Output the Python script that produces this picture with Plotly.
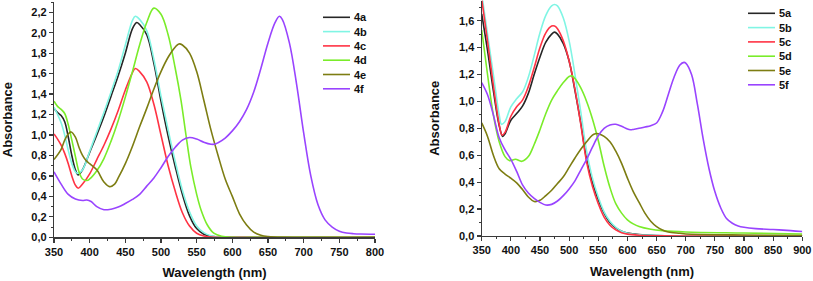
import plotly.graph_objects as go

# ---------------- data: left panel (compounds 4a-4f) ----------------
names_4 = ["4a", "4b", "4c", "4d", "4e", "4f"]

wl_4a = [350, 355, 360, 365, 370, 375, 380, 384, 390, 400, 410, 420, 430, 440, 450, 460, 466, 470, 480, 490, 500, 510, 520, 530, 540, 550, 560, 570, 580, 600, 650, 800]
ab_4a = [1.26, 1.22, 1.19, 1.13, 0.98, 0.80, 0.66, 0.61, 0.66, 0.83, 1.00, 1.18, 1.38, 1.58, 1.80, 2.04, 2.10, 2.08, 1.98, 1.70, 1.33, 0.99, 0.69, 0.42, 0.21, 0.085, 0.03, 0.01, 0.003, 0.0, 0.0, 0.0]

wl_4b = [350, 355, 360, 365, 370, 375, 380, 383, 390, 400, 410, 420, 430, 440, 450, 460, 464, 470, 480, 490, 500, 510, 520, 530, 540, 550, 560, 570, 580, 600, 650, 800]
ab_4b = [1.27, 1.20, 1.12, 1.00, 0.85, 0.72, 0.64, 0.625, 0.66, 0.84, 1.03, 1.22, 1.42, 1.63, 1.88, 2.12, 2.16, 2.13, 2.02, 1.74, 1.38, 1.05, 0.74, 0.46, 0.25, 0.11, 0.045, 0.015, 0.005, 0.0, 0.0, 0.0]

wl_4c = [350, 355, 360, 365, 370, 375, 380, 384, 390, 400, 410, 420, 430, 440, 450, 460, 464, 470, 480, 490, 500, 510, 520, 530, 540, 550, 560, 570, 600, 650, 800]
ab_4c = [1.01, 0.96, 0.90, 0.82, 0.72, 0.60, 0.51, 0.48, 0.52, 0.62, 0.76, 0.90, 1.06, 1.24, 1.44, 1.61, 1.65, 1.62, 1.52, 1.30, 1.00, 0.70, 0.45, 0.24, 0.11, 0.04, 0.012, 0.003, 0.0, 0.0, 0.0]

wl_4d = [350, 355, 360, 365, 370, 375, 380, 385, 390, 396, 400, 410, 420, 430, 440, 450, 460, 470, 480, 490, 500, 510, 520, 528, 535, 542, 550, 556, 565, 574, 585, 600, 650, 800]
ab_4d = [1.33, 1.28, 1.25, 1.21, 1.10, 0.95, 0.79, 0.64, 0.57, 0.555, 0.57, 0.65, 0.77, 0.94, 1.14, 1.37, 1.62, 1.88, 2.10, 2.24, 2.18, 1.98, 1.65, 1.34, 1.00, 0.68, 0.42, 0.27, 0.12, 0.04, 0.01, 0.0, 0.0, 0.0]

wl_4e = [350, 360, 365, 370, 374, 380, 385, 390, 395, 400, 410, 420, 428, 435, 440, 450, 460, 470, 480, 490, 500, 510, 520, 525, 530, 540, 550, 560, 570, 580, 590, 600, 610, 620, 630, 640, 650, 670, 800]
ab_4e = [0.76, 0.86, 0.95, 1.01, 1.03, 0.98, 0.88, 0.80, 0.75, 0.72, 0.66, 0.54, 0.495, 0.52, 0.58, 0.72, 0.89, 1.08, 1.26, 1.45, 1.62, 1.76, 1.86, 1.89, 1.88, 1.80, 1.62, 1.34, 1.05, 0.80, 0.57, 0.40, 0.23, 0.12, 0.05, 0.02, 0.008, 0.0, 0.0]

wl_4f = [350, 360, 370, 380, 390, 396, 402, 410, 420, 430, 440, 450, 460, 470, 480, 490, 500, 510, 520, 530, 540, 550, 560, 570, 575, 580, 590, 600, 610, 620, 630, 640, 650, 660, 666, 670, 680, 690, 700, 710, 720, 730, 740, 750, 760, 770, 780, 800]
ab_4f = [0.64, 0.52, 0.42, 0.375, 0.36, 0.365, 0.35, 0.30, 0.27, 0.275, 0.295, 0.33, 0.37, 0.42, 0.50, 0.58, 0.68, 0.79, 0.88, 0.95, 0.975, 0.96, 0.93, 0.91, 0.91, 0.925, 0.97, 1.04, 1.13, 1.25, 1.42, 1.65, 1.90, 2.10, 2.16, 2.13, 1.90, 1.50, 1.02, 0.60, 0.32, 0.17, 0.10, 0.06, 0.042, 0.035, 0.032, 0.03]

# ---------------- data: right panel (compounds 5a-5f) ----------------
names_5 = ["5a", "5b", "5c", "5d", "5e", "5f"]

wl_5a = [350, 360, 370, 380, 386, 390, 400, 410, 420, 430, 440, 450, 460, 470, 475, 480, 490, 500, 510, 520, 530, 540, 550, 560, 570, 580, 590, 600, 620, 650, 700, 900]
ab_5a = [1.65, 1.38, 1.08, 0.82, 0.74, 0.76, 0.86, 0.91, 0.965, 1.06, 1.20, 1.33, 1.44, 1.50, 1.515, 1.50, 1.43, 1.30, 1.08, 0.84, 0.57, 0.40, 0.27, 0.17, 0.10, 0.06, 0.035, 0.022, 0.01, 0.004, 0.002, 0.0]

wl_5b = [350, 360, 370, 380, 384, 390, 400, 410, 420, 430, 440, 450, 460, 470, 475, 480, 490, 500, 510, 520, 530, 540, 550, 560, 570, 580, 590, 600, 620, 650, 700, 900]
ab_5b = [1.80, 1.50, 1.20, 0.90, 0.83, 0.85, 0.96, 1.02, 1.07, 1.18, 1.34, 1.51, 1.64, 1.71, 1.72, 1.71, 1.62, 1.45, 1.20, 0.92, 0.63, 0.43, 0.29, 0.18, 0.11, 0.065, 0.035, 0.02, 0.008, 0.003, 0.001, 0.0]

wl_5c = [350, 360, 370, 380, 385, 390, 400, 410, 420, 430, 440, 450, 460, 470, 475, 480, 490, 500, 510, 520, 530, 540, 550, 560, 570, 580, 590, 600, 620, 650, 700, 900]
ab_5c = [1.76, 1.45, 1.12, 0.83, 0.75, 0.77, 0.89, 0.96, 1.01, 1.11, 1.25, 1.40, 1.51, 1.56, 1.56, 1.54, 1.45, 1.30, 1.09, 0.83, 0.55, 0.37, 0.24, 0.14, 0.08, 0.045, 0.025, 0.014, 0.006, 0.002, 0.0, 0.0]

wl_5d = [350, 360, 370, 380, 390, 398, 408, 419, 430, 440, 450, 460, 470, 480, 490, 500, 505, 510, 520, 530, 540, 550, 560, 570, 580, 590, 600, 610, 620, 640, 660, 700, 800, 900]
ab_5d = [1.53, 1.20, 0.90, 0.70, 0.59, 0.56, 0.57, 0.555, 0.59, 0.68, 0.79, 0.91, 1.01, 1.08, 1.14, 1.185, 1.19, 1.17, 1.10, 1.00, 0.87, 0.71, 0.52, 0.36, 0.24, 0.17, 0.12, 0.09, 0.07, 0.05, 0.04, 0.03, 0.022, 0.015]

wl_5e = [350, 360, 370, 380, 390, 400, 410, 420, 430, 440, 450, 460, 470, 480, 490, 500, 510, 520, 530, 540, 545, 550, 560, 570, 580, 590, 600, 610, 620, 630, 640, 650, 660, 670, 690, 700, 800, 900]
ab_5e = [0.84, 0.74, 0.60, 0.50, 0.46, 0.43, 0.395, 0.345, 0.29, 0.256, 0.265, 0.30, 0.34, 0.39, 0.44, 0.51, 0.58, 0.645, 0.70, 0.75, 0.76, 0.76, 0.74, 0.70, 0.63, 0.54, 0.43, 0.33, 0.25, 0.17, 0.11, 0.07, 0.045, 0.03, 0.02, 0.015, 0.007, 0.004]

wl_5f = [350, 360, 370, 380, 390, 400, 410, 420, 430, 440, 450, 460, 470, 480, 490, 500, 510, 520, 530, 540, 550, 560, 570, 580, 590, 600, 605, 610, 620, 630, 640, 650, 660, 670, 680, 690, 697, 700, 710, 720, 730, 740, 750, 760, 770, 780, 790, 800, 820, 850, 880, 900]
ab_5f = [1.14, 1.05, 0.90, 0.73, 0.64, 0.57, 0.48, 0.38, 0.32, 0.28, 0.25, 0.23, 0.235, 0.26, 0.30, 0.35, 0.41, 0.49, 0.57, 0.66, 0.745, 0.80, 0.825, 0.83, 0.815, 0.795, 0.79, 0.792, 0.80, 0.81, 0.82, 0.84, 0.92, 1.05, 1.18, 1.27, 1.29, 1.285, 1.20, 0.98, 0.72, 0.50, 0.33, 0.21, 0.13, 0.095, 0.075, 0.065, 0.055, 0.048, 0.04, 0.033]

colors = ["#262626", "#80f5e4", "#ff3344", "#7aec2a", "#7d7d12", "#9944ff"]

wl_ticks_left = [350, 400, 450, 500, 550, 600, 650, 700, 750, 800]
wl_ticks_right = [350, 400, 450, 500, 550, 600, 650, 700, 750, 800, 850, 900]

left_series = list(zip(names_4, [wl_4a, wl_4b, wl_4c, wl_4d, wl_4e, wl_4f],
                       [ab_4a, ab_4b, ab_4c, ab_4d, ab_4e, ab_4f]))
right_series = list(zip(names_5, [wl_5a, wl_5b, wl_5c, wl_5d, wl_5e, wl_5f],
                        [ab_5a, ab_5b, ab_5c, ab_5d, ab_5e, ab_5f]))

FONT = "Liberation Sans, Arial, sans-serif"
AXC = "#3a3a3a"

fig = go.Figure()
for i, (nm, x, y) in enumerate(left_series):
    fig.add_trace(go.Scatter(x=x, y=y, name=nm, mode="lines", xaxis="x", yaxis="y",
                             line=dict(color=colors[i], width=1.6, shape="spline", smoothing=1.0),
                             showlegend=False))
for i, (nm, x, y) in enumerate(right_series):
    fig.add_trace(go.Scatter(x=x, y=y, name=nm, mode="lines", xaxis="x2", yaxis="y2",
                             line=dict(color=colors[i], width=1.6, shape="spline", smoothing=1.0),
                             showlegend=False))

W, H = 813, 281

def xaxis(dom, rng, ticks):
    return dict(domain=dom, range=rng, tickvals=ticks, showgrid=False, zeroline=False,
                showline=True, linecolor=AXC, linewidth=1.2, ticks="outside", ticklen=4,
                tickwidth=1.2, tickcolor=AXC, ticklabeloverflow="allow",
                minor=dict(dtick=25, ticks="outside", ticklen=2, tickwidth=1, tickcolor=AXC, showgrid=False),
                tickfont=dict(family=FONT, size=11, color="#111", weight="bold"),
                title=dict(text="Wavelength (nm)", standoff=11,
                           font=dict(family=FONT, size=13, color="#111", weight="bold")),
                automargin=False, fixedrange=True)

def yaxis(dom, rng, anchor):
    return dict(domain=dom, range=rng, anchor=anchor, dtick=0.2, tick0=0, tickformat=".1f",
                showgrid=False, zeroline=False, showline=True, linecolor=AXC, linewidth=1.2,
                ticks="outside", ticklen=4, tickwidth=1.2, tickcolor=AXC,
                minor=dict(dtick=0.1, ticks="outside", ticklen=2, tickwidth=1, tickcolor=AXC, showgrid=False),
                tickfont=dict(family=FONT, size=11, color="#111", weight="bold"),
                title=dict(text="Absorbance", standoff=16,
                           font=dict(family=FONT, size=13, color="#111", weight="bold")),
                automargin=False, fixedrange=True)

fig.update_layout(
    width=W, height=H, margin=dict(l=0, r=0, t=0, b=0),
    paper_bgcolor="white", plot_bgcolor="white", separators=",.",
    showlegend=False, hovermode=False,
    xaxis=dict(**xaxis([54 / W, 375 / W], [350, 800], wl_ticks_left), anchor="y"),
    yaxis=yaxis([(H - 237.3) / H, (H - 2) / H], [0, 2.3], "x"),
    xaxis2=dict(**xaxis([481.7 / W, 802.3 / W], [350, 900], wl_ticks_right), anchor="y2"),
    yaxis2=yaxis([(H - 236) / H, (H - 0.5) / H], [0, 1.75], "x2"),
)

# legends (line samples + bold labels), one per panel
def add_legend(names, x0, y0, step):
    for i, nm in enumerate(names):
        yy = y0 + i * step
        fig.add_shape(type="line", xref="paper", yref="paper",
                      x0=x0 / W, x1=(x0 + 27) / W, y0=1 - yy / H, y1=1 - yy / H,
                      line=dict(color=colors[i], width=1.6))
        fig.add_annotation(x=(x0 + 29) / W, y=1 - yy / H, xref="paper", yref="paper",
                           text=nm, showarrow=False, xanchor="left", yanchor="middle",
                           font=dict(family=FONT, size=11, color="#111", weight="bold"))

add_legend(names_4, 323, 17.3, 14.3)
add_legend(names_5, 748, 13.3, 14.3)

fig.write_html("out.html", config={"displayModeBar": False, "staticPlot": True},
               post_script="document.body.style.margin='0';document.body.style.overflow='hidden';")
